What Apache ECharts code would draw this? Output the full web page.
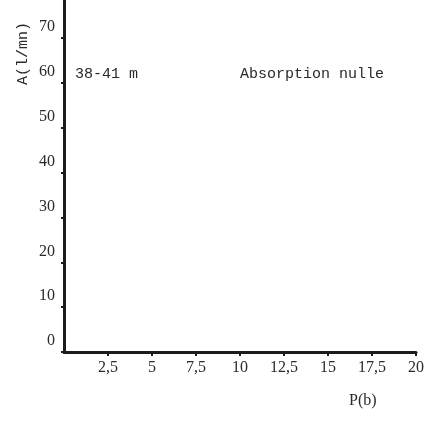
<!DOCTYPE html>
<html>
<head>
<meta charset="utf-8">
<script src="https://cdn.jsdelivr.net/npm/echarts@6/dist/echarts.min.js"></script>
<style>
  html, body { margin: 0; padding: 0; background: #fff; }
  #chart { width: 427px; height: 430px; }
</style>
</head>
<body>
<div id="chart"></div>
<script>
// Pressure axis P(b) and absorption axis A(l/mn)
const pressureTicks = [2.5, 5, 7.5, 10, 12.5, 15, 17.5, 20];
const absorptionTicks = [0, 10, 20, 30, 40, 50, 60, 70];
const pressureRange = [0, 20];
const absorptionRange = [0, 78.5];
// Zero absorption measured over the whole test: no points to plot
const absorptionValues = [];

const depthLabel = '38-41 m';
const resultLabel = 'Absorption nulle';
const xName = 'P(b)';
const yName = 'A(l/mn)';

const ink = '#1c1c1c';
const textInk = '#2a2a2a';
const serif = '"Liberation Serif", "DejaVu Serif", serif';
const mono = '"Liberation Mono", "DejaVu Sans Mono", monospace';

const chart = echarts.init(document.getElementById('chart'));
chart.setOption({
  animation: false,
  backgroundColor: '#fff',
  grid: { left: 64, right: 7, top: 0, bottom: 78, containLabel: false },
  xAxis: {
    type: 'value',
    min: pressureRange[0],
    max: pressureRange[1],
    interval: 2.5,
    splitLine: { show: false },
    axisLine: { show: true, lineStyle: { color: ink, width: 3 } },
    axisTick: {
      show: true, inside: false, length: 4,
      lineStyle: { color: ink, width: 2 },
      customValues: pressureTicks
    },
    axisLabel: {
      customValues: pressureTicks,
      margin: 8,
      color: textInk,
      fontFamily: serif,
      fontSize: 16,
      formatter: v => String(v).replace('.', ',')
    }
  },
  yAxis: {
    type: 'value',
    min: absorptionRange[0],
    max: absorptionRange[1],
    interval: 10,
    splitLine: { show: false },
    axisLine: { show: true, lineStyle: { color: ink, width: 3 } },
    axisTick: {
      show: true, inside: false, length: 3,
      lineStyle: { color: ink, width: 2 },
      customValues: absorptionTicks
    },
    axisLabel: {
      customValues: absorptionTicks,
      margin: 9,
      color: textInk,
      fontFamily: serif,
      fontSize: 16,
      verticalAlign: 'bottom',
      padding: [0, 0, 3, 0]
    }
  },
  series: [{
    type: 'line',
    data: absorptionValues,
    symbol: 'none',
    lineStyle: { color: ink }
  }],
  graphic: [
    {
      type: 'text', left: 75, top: 67,
      style: { text: depthLabel, fontFamily: mono, fontSize: 15, fill: textInk }
    },
    {
      type: 'text', left: 240, top: 67,
      style: { text: resultLabel, fontFamily: mono, fontSize: 15, fill: textInk }
    },
    {
      type: 'text', left: 349, top: 393,
      style: { text: xName, fontFamily: serif, fontSize: 16, fill: textInk }
    },
    {
      type: 'text', left: 16, top: 22, rotation: Math.PI / 2,
      style: { text: yName, fontFamily: mono, fontSize: 15, fill: textInk }
    }
  ]
});
</script>
</body>
</html>
